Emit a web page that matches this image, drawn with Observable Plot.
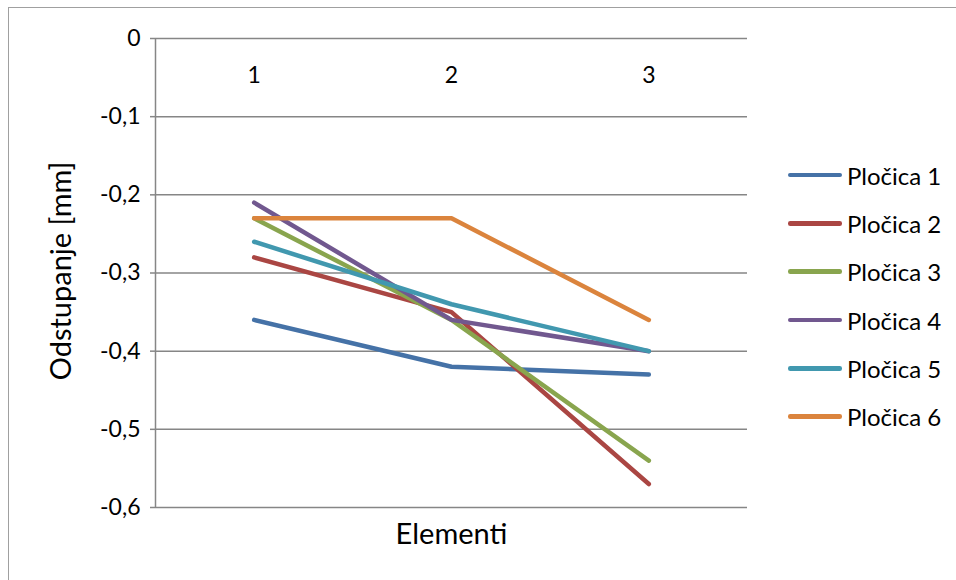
<!DOCTYPE html>
<html>
<head>
<meta charset="utf-8">
<script src="https://cdn.jsdelivr.net/npm/d3@7"></script>
<script src="https://cdn.jsdelivr.net/npm/@observablehq/plot@0.6"></script>
<style>
  html, body { margin: 0; padding: 0; background: #fff; }
  #wrap { position: relative; width: 956px; height: 580px; overflow: hidden; font-family: Lato, "Open Sans", sans-serif; }
  #border { position: absolute; left: 8px; top: 7px; width: 1000px; height: 700px; border: 1px solid #a0a0a0; box-sizing: border-box; }
  #legend { position: absolute; left: 788px; top: 151px; }
  .item { display: flex; align-items: center; height: 48.3px; font-size: 24px; color: #000; }
  .sw { width: 54px; height: 4.5px; border-radius: 2.25px; margin-right: 5px; }
</style>
</head>
<body>
<div id="wrap"><div id="border"></div><div id="chart"></div><div id="legend"></div></div>
<script>
const categories = [1, 2, 3];
const seriesNames = ["Pločica 1", "Pločica 2", "Pločica 3", "Pločica 4", "Pločica 5", "Pločica 6"];
const ploc1 = [-0.36, -0.42, -0.43];
const ploc2 = [-0.28, -0.35, -0.57];
const ploc3 = [-0.23, -0.36, -0.54];
const ploc4 = [-0.21, -0.36, -0.40];
const ploc5 = [-0.26, -0.34, -0.40];
const ploc6 = [-0.23, -0.23, -0.36];
const yTicks = [0, -0.1, -0.2, -0.3, -0.4, -0.5, -0.6];
const colors = ["#4572A7", "#AA4643", "#89A54E", "#71588F", "#4198AF", "#DB843D"];

const allSeries = [ploc1, ploc2, ploc3, ploc4, ploc5, ploc6];
const data = [];
allSeries.forEach((vals, s) => vals.forEach((v, i) => data.push({series: seriesNames[s], x: categories[i], y: v})));

const fmt = d => d === 0 ? "0" : d.toFixed(1).replace(".", ",");

const chart = Plot.plot({
  width: 956,
  height: 580,
  marginLeft: 155,
  marginRight: 209,
  marginTop: 38,
  marginBottom: 73,
  style: {fontFamily: "Lato, 'Open Sans', sans-serif", fontSize: "23px", background: "transparent", overflow: "visible"},
  x: {type: "linear", domain: [0.5, 3.5], axis: null},
  y: {domain: [-0.6, 0]},
  color: {domain: seriesNames, range: colors},
  marks: [
    Plot.ruleY(yTicks, {stroke: "#868686", strokeWidth: 1.5}),
    Plot.ruleX([0.5], {stroke: "#868686", strokeWidth: 1.5}),
    Plot.axisY({ticks: yTicks, tickFormat: fmt, tickSize: 5, tickPadding: 10, stroke: "#868686", strokeWidth: 1.5, fill: "#000", fontSize: 23, label: null}),
    Plot.text(categories, {x: d => d, y: () => 0, dy: 37, text: d => String(d), fontSize: 23, fill: "#000"}),
    Plot.line(data, {x: "x", y: "y", z: "series", stroke: "series", strokeWidth: 4.5, strokeLinecap: "round", strokeLinejoin: "round"}),
    Plot.text(["Odstupanje [mm]"], {frameAnchor: "left", textAnchor: "middle", lineAnchor: "middle", dx: -94, dy: -2, rotate: -90, fontSize: 29, fill: "#000"}),
    Plot.text(["Elementi"], {frameAnchor: "bottom", textAnchor: "middle", lineAnchor: "middle", dy: 27, fontSize: 29, fill: "#000"})
  ]
});
document.getElementById("chart").appendChild(chart);

const legend = document.getElementById("legend");
seriesNames.forEach((name, i) => {
  const row = document.createElement("div");
  row.className = "item";
  const sw = document.createElement("div");
  sw.className = "sw";
  sw.style.background = colors[i];
  const lab = document.createElement("span");
  lab.textContent = name;
  row.appendChild(sw);
  row.appendChild(lab);
  legend.appendChild(row);
});
</script>
</body>
</html>
